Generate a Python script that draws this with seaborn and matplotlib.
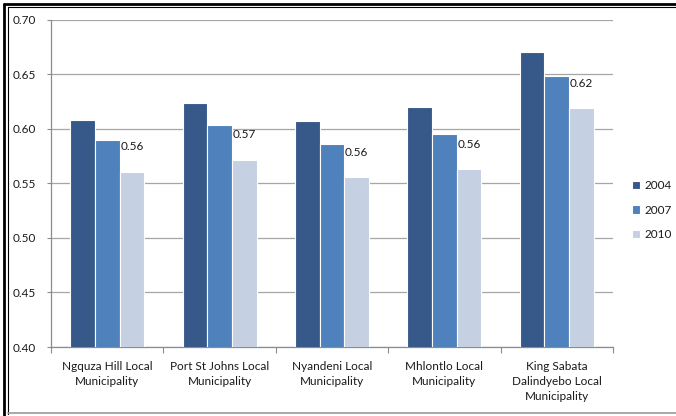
import numpy as np
import pandas as pd
import seaborn as sns
import matplotlib.pyplot as plt
from matplotlib.lines import Line2D
from matplotlib.ticker import MultipleLocator, FixedLocator, NullFormatter

# Index values per local municipality and year
municipalities = [
    "Ngquza Hill Local\nMunicipality",
    "Port St Johns Local\nMunicipality",
    "Nyandeni Local\nMunicipality",
    "Mhlontlo Local\nMunicipality",
    "King Sabata\nDalindyebo Local\nMunicipality",
]
years = ["2004", "2007", "2010"]
values_2004 = [0.608, 0.624, 0.607, 0.620, 0.671]
values_2007 = [0.590, 0.604, 0.586, 0.595, 0.649]
values_2010 = [0.561, 0.572, 0.556, 0.563, 0.619]
labelled_year = "2010"

df = pd.DataFrame({
    "municipality": municipalities * 3,
    "year": [y for y in years for _ in municipalities],
    "value": values_2004 + values_2007 + values_2010,
})

sns.set_theme(style="white")
plt.rcParams["font.family"] = ["Lato", "DejaVu Sans"]

palette = {"2004": "#36598a", "2007": "#4f81bd", "2010": "#c5d0e2"}
text_color = "#1a1a1a"
grid_color = "#a6a6a6"

fig = plt.figure(figsize=(6.76, 4.16), dpi=100)
ax = fig.add_axes([51 / 676, 1 - 347 / 416, (613 - 51) / 676, (347 - 20) / 416])

sns.barplot(
    data=df, x="municipality", y="value", hue="year",
    order=municipalities, hue_order=years, palette=palette,
    width=0.66, edgecolor="white", linewidth=0.8, saturation=1,
    legend=True, ax=ax, zorder=3,
)

ax.set_ylim(0.40, 0.70)
ax.set_xlim(-0.5, len(municipalities) - 0.5)
ax.yaxis.set_major_locator(MultipleLocator(0.05))
ax.yaxis.set_major_formatter(plt.FuncFormatter(lambda v, _: f"{v:.2f}"))
ax.grid(axis="y", color=grid_color, linewidth=0.9, zorder=0)
ax.set_axisbelow(True)
ax.set_xlabel("")
ax.set_ylabel("")

for side in ("top", "right"):
    ax.spines[side].set_visible(False)
for side in ("left", "bottom"):
    ax.spines[side].set_color("#8c8c8c")
    ax.spines[side].set_linewidth(0.9)

ax.tick_params(axis="y", length=3, width=0.8, color="#8c8c8c", pad=8,
               labelsize=8.5, labelcolor=text_color, left=True)
ax.tick_params(axis="x", which="major", length=0, pad=10,
               labelsize=8.5, labelcolor=text_color)
ax.xaxis.set_minor_locator(FixedLocator(np.arange(-0.5, len(municipalities), 1.0)))
ax.xaxis.set_minor_formatter(NullFormatter())
ax.tick_params(axis="x", which="minor", length=4, width=0.8, color="#8c8c8c", bottom=True)
for lbl in ax.get_xticklabels():
    lbl.set_linespacing(1.45)

# Value labels on the most recent year
container = ax.containers[years.index(labelled_year)]
ax.bar_label(container, labels=[f"{v:.2f}" for v in values_2010],
             padding=14, fontsize=8.5, color=text_color)

# Legend on the right
handles, labels = ax.get_legend_handles_labels()
ax.get_legend().remove()
fig.legend(handles, labels, loc="center left", bbox_to_anchor=(621 / 676, 1 - 210 / 416),
           frameon=False, fontsize=8.5, handlelength=0.7, handleheight=0.7,
           handletextpad=0.4, labelspacing=1.15, labelcolor=text_color)

# Outer frame of the chart area
frame = [
    ((3.5 / 676, 3.5 / 676), (0, 1 - 3.5 / 416), "black", 2.0),
    ((7.5 / 676, 7.5 / 676), (2 / 416, 1 - 7 / 416), "black", 0.8),
    ((3.5 / 676, 1.0), (1 - 3.5 / 416, 1 - 3.5 / 416), "black", 2.0),
    ((7.5 / 676, 1.0), (1 - 7 / 416, 1 - 7 / 416), "black", 0.8),
    ((7.5 / 676, 1.0), (3 / 416, 3 / 416), "#9a9a9a", 1.2),
]
for xs, ys, col, lw in frame:
    fig.add_artist(Line2D(xs, ys, transform=fig.transFigure, color=col, linewidth=lw))

fig.savefig("out.png", dpi=100)
